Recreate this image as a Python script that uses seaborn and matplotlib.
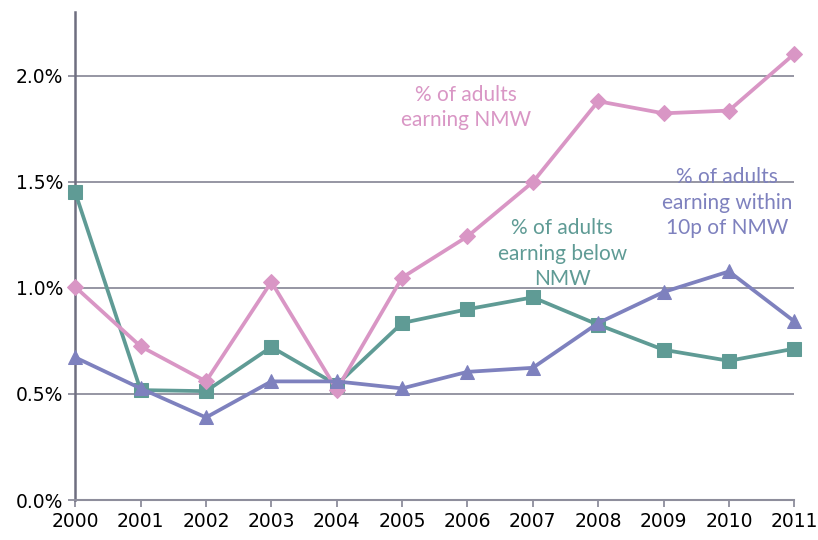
import pandas as pd
import seaborn as sns
import matplotlib.pyplot as plt
from matplotlib.ticker import FuncFormatter

years = [2000, 2001, 2002, 2003, 2004, 2005, 2006, 2007, 2008, 2009, 2010, 2011]
at_nmw = [1.004, 0.724, 0.559, 1.028, 0.52, 1.048, 1.242, 1.498, 1.879, 1.822, 1.835, 2.102]
below_nmw = [1.449, 0.518, 0.513, 0.721, 0.543, 0.834, 0.899, 0.955, 0.826, 0.708, 0.656, 0.713]
within_10p = [0.672, 0.526, 0.389, 0.559, 0.559, 0.526, 0.604, 0.623, 0.834, 0.980, 1.077, 0.842]

pink = '#D996C5'
teal = '#5F9B95'
purple = '#7E81BE'

sns.set_theme(style='white')
plt.rcParams['font.family'] = ['Lato', 'DejaVu Sans']

fig = plt.figure(figsize=(8.18, 5.4), dpi=100)
ax = fig.add_axes([0.092, 0.074, 0.879, 0.904])

df = pd.DataFrame({'year': years, 'nmw': at_nmw, 'below': below_nmw, 'within': within_10p})

sns.lineplot(data=df, x='year', y='nmw', color=pink, lw=2.7, marker='D', ms=8,
             mec=pink, ax=ax, clip_on=False, zorder=5)
sns.lineplot(data=df, x='year', y='below', color=teal, lw=2.7, marker='s', ms=10,
             mec=teal, ax=ax, clip_on=False, zorder=4)
sns.lineplot(data=df, x='year', y='within', color=purple, lw=2.7, marker='^', ms=10,
             mec=purple, ax=ax, clip_on=False, zorder=6)

ax.set_xlim(2000, 2011)
ax.set_ylim(0, 2.3)
ax.set_yticks([0, 0.5, 1.0, 1.5, 2.0])
ax.set_xticks(years)
ax.yaxis.set_major_formatter(FuncFormatter(lambda v, p: f'{v:.1f}%'))
ax.set_xlabel('')
ax.set_ylabel('')
ax.grid(axis='y', color='#8E8E9C', lw=1.3)
ax.set_axisbelow(True)

for s in ['top', 'right']:
    ax.spines[s].set_visible(False)
ax.spines['left'].set_color('#6E6E80')
ax.spines['left'].set_linewidth(1.8)
ax.spines['bottom'].set_color('#8E8E9C')
ax.spines['bottom'].set_linewidth(1.5)
ax.tick_params(axis='both', which='major', length=5, width=1.3, color='#8E8E9C',
               labelsize=13.5, labelcolor='black', direction='out', bottom=True, left=True)
for lab in ax.get_xticklabels() + ax.get_yticklabels():
    lab.set_fontfamily('DejaVu Sans')

ax.text(2005.98, 1.85, '% of adults\nearning NMW', color=pink, fontsize=15,
        ha='center', va='center', linespacing=1.35)
ax.text(2007.45, 1.16, '% of adults\nearning below\nNMW', color=teal, fontsize=15,
        ha='center', va='center', linespacing=1.35)
ax.text(2009.97, 1.40, '% of adults\nearning within\n10p of NMW', color=purple, fontsize=15,
        ha='center', va='center', linespacing=1.35)

fig.savefig('out.png', dpi=100)
